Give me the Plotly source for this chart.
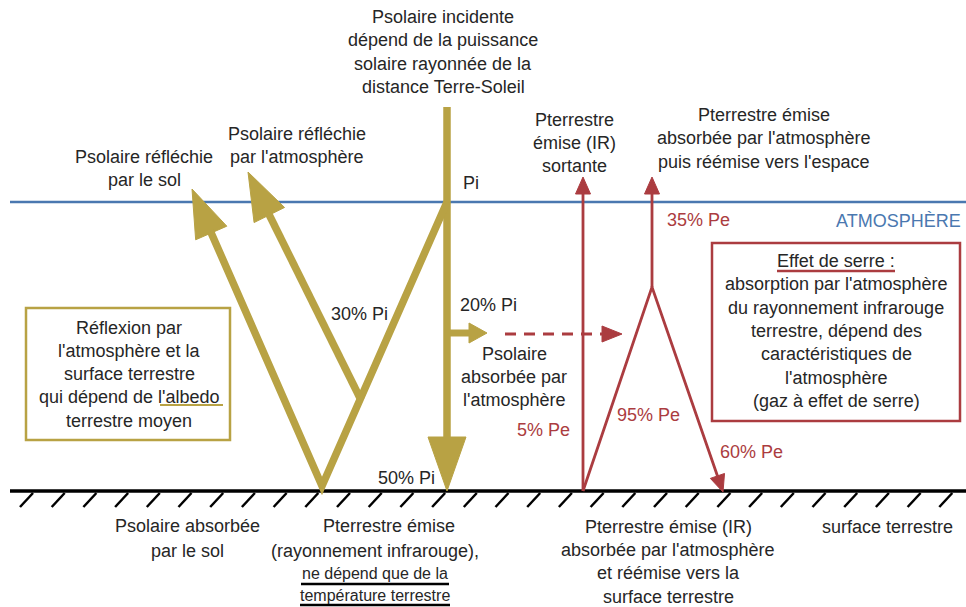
import plotly.graph_objects as go

W, H = 966, 607
JAUNE = "#b8a244"
ROUGE = "#ab3c40"
BLEU = "#4a78b0"
NOIR = "#262626"
POLICE = "Liberation Sans, Arial, sans-serif"

# --- textes du schema ---
incident_txt = ["Psolaire incidente", "dépend de la puissance",
                "solaire rayonnée de la", "distance Terre-Soleil"]
refl_sol_txt = ["Psolaire réfléchie", "par le sol"]
refl_atm_txt = ["Psolaire réfléchie", "par l'atmosphère"]
abs_atm_txt = ["Psolaire", "absorbée par", "l'atmosphère"]
albedo_txt = ["Réflexion par", "l'atmosphère et la", "surface terrestre",
              "qui dépend de l'albedo", "terrestre moyen"]
ir_sortant_txt = ["Pterrestre", "émise (IR)", "sortante"]
ir_reemis_txt = ["Pterrestre émise", "absorbée par l'atmosphère",
                 "puis réémise vers l'espace"]
serre_txt = ["Effet de serre :", "absorption par l'atmosphère",
             "du rayonnement infrarouge", "terrestre, dépend des",
             "caractéristiques de", "l'atmosphère", "(gaz à effet de serre)"]
sol_abs_txt = ["Psolaire absorbée", "par le sol"]
ir_emis_txt = ["Pterrestre émise", "(rayonnement infrarouge),",
               "ne dépend que de la", "température terrestre"]
ir_retour_txt = ["Pterrestre émise (IR)", "absorbée par l'atmosphère",
                 "et réémise vers la", "surface terrestre"]
sol_txt = "surface terrestre"
atm_txt = "ATMOSPHÈRE"

# parts des flux
parts_solaire = ["Pi", "30% Pi", "20% Pi", "50% Pi"]
parts_terre = ["5% Pe", "95% Pe", "35% Pe", "60% Pe"]

Y_ATM = 202
Y_SOL = 491

shapes = []
annos = []


def tete(x0, y0, x1, y1, color, hl, hw):
    dx, dy = x1 - x0, y1 - y0
    d = (dx * dx + dy * dy) ** 0.5
    ux, uy = dx / d, dy / d
    bx, by = x1 - ux * hl, y1 - uy * hl
    px, py = -uy, ux
    path = (f"M{x1},{y1} L{bx + px * hw / 2},{by + py * hw / 2} "
            f"L{bx - px * hw / 2},{by - py * hw / 2} Z")
    shapes.append(dict(type="path", path=path, fillcolor=color,
                       line=dict(color=color, width=1)))
    return bx + ux * 2, by + uy * 2


def fleche(pts, color, lw, hl, hw, dash=None):
    # polyligne terminee par une tete de fleche
    (x0, y0), (x1, y1) = pts[-2], pts[-1]
    bx, by = tete(x0, y0, x1, y1, color, hl, hw)
    corps = pts[:-1] + [(bx, by)]
    if len(corps) == 2:
        shapes.append(dict(type="line", x0=corps[0][0], y0=corps[0][1],
                           x1=corps[1][0], y1=corps[1][1],
                           line=dict(color=color, width=lw, dash=dash)))
    else:
        path = "M" + " L".join(f"{x},{y}" for x, y in corps)
        shapes.append(dict(type="path", path=path, fillcolor="rgba(0,0,0,0)",
                           line=dict(color=color, width=lw)))


def ligne(x0, y0, x1, y1, color, lw):
    shapes.append(dict(type="line", x0=x0, y0=y0, x1=x1, y1=y1,
                       line=dict(color=color, width=lw)))


def bloc(lines, x, y0, dy=23.3, color=NOIR, size=18, anchor="center"):
    for i, t in enumerate(lines):
        annos.append(dict(x=x, y=y0 + i * dy, text=t, showarrow=False,
                          xanchor=anchor, yanchor="middle",
                          font=dict(family=POLICE, size=size, color=color)))


# atmosphere et sol
ligne(10, Y_ATM, W, Y_ATM, BLEU, 2.5)
ligne(10, Y_SOL, W, Y_SOL, "black", 3.5)
xh = 33
while xh < W:
    ligne(xh, Y_SOL + 2, xh - 13, Y_SOL + 16, "black", 2.5)
    xh += 31.7

# flux solaire
fleche([(447, 107), (447, Y_SOL)], JAUNE, 7.5, 54, 38)
fleche([(447, Y_ATM), (322, 486), (192, 189)], JAUNE, 7.5, 48, 34)
fleche([(361, 400), (248, 172)], JAUNE, 7.5, 48, 34)
fleche([(447, 333), (487, 333)], JAUNE, 7, 18, 20)

# flux terrestre
fleche([(505, 334), (622, 334)], ROUGE, 2.8, 20, 16, dash="11px,8px")
fleche([(583, Y_SOL), (583, 177)], ROUGE, 2.8, 17, 15)
fleche([(583, Y_SOL), (652, 287), (723, 492)], ROUGE, 2.8, 17, 15)
fleche([(652, 287), (652, 177)], ROUGE, 2.8, 17, 15)

# encadres
shapes.append(dict(type="rect", x0=26, y0=308, x1=230, y1=440,
                   line=dict(color=JAUNE, width=2.5)))
shapes.append(dict(type="rect", x0=712, y0=243, x1=960, y1=421,
                   line=dict(color=ROUGE, width=2.5)))

# soulignements
ligne(160, 405, 223, 405, JAUNE, 2)
ligne(777, 271, 895, 271, ROUGE, 2.5)
ligne(301, 584, 449, 584, "black", 2.5)
ligne(300, 605, 450, 605, "black", 2.5)

# textes
bloc(incident_txt, 443, 17)
bloc(refl_sol_txt, 144, 156.5)
bloc(refl_atm_txt, 296.5, 134)
bloc(abs_atm_txt, 514, 353.5)
bloc(albedo_txt, 129, 327.5)
bloc(ir_sortant_txt, 574, 119.5)
bloc(ir_reemis_txt, 764, 115)
bloc(serre_txt, 836, 261)
bloc(sol_abs_txt, 187, 526, dy=24.5)
bloc(ir_emis_txt[:1], 389, 526)
bloc(ir_emis_txt[1:2], 375, 550.5)
bloc(ir_emis_txt[2:], 375, 573.5, dy=22, size=16)
bloc(ir_retour_txt, 668, 526.5, dy=23.4)
bloc([sol_txt], 887, 526.5)
bloc([atm_txt], 898, 220.5, color=BLEU)

bloc([parts_solaire[0]], 461, 183, anchor="left")
bloc([parts_solaire[1]], 359, 314)
bloc([parts_solaire[2]], 458, 305, anchor="left")
bloc([parts_solaire[3]], 406.5, 478)

bloc([parts_terre[0]], 543.5, 429.5, color=ROUGE)
bloc([parts_terre[1]], 648, 415, color=ROUGE)
bloc([parts_terre[2]], 698.5, 219.5, color=ROUGE)
bloc([parts_terre[3]], 751.5, 451.5, color=ROUGE)

fig = go.Figure()
fig.update_layout(
    width=W, height=H, autosize=False,
    margin=dict(l=0, r=0, t=0, b=0),
    paper_bgcolor="white", plot_bgcolor="white",
    xaxis=dict(range=[0, W], visible=False, fixedrange=True),
    yaxis=dict(range=[H, 0], visible=False, fixedrange=True),
    shapes=shapes, annotations=annos, showlegend=False,
)

fig.write_html("out.html", config={"displayModeBar": False},
               post_script="document.body.style.margin='0';")
